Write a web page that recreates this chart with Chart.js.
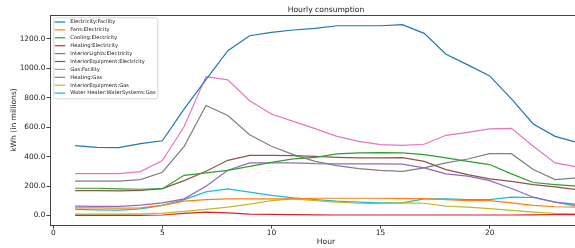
<!DOCTYPE html>
<html>
<head>
<meta charset="utf-8">
<script src="https://cdn.jsdelivr.net/npm/chart.js@4.4.0/dist/chart.umd.min.js"></script>
<style>
  html, body { margin: 0; padding: 0; background: #fff; overflow: hidden; }
  #wrap { width: 605px; height: 248px; }
</style>
</head>
<body>
<div id="wrap"><canvas id="chart" width="605" height="248"></canvas></div>
<script>
// ── DATA ──────────────────────────────────────────────────────
const TITLE  = 'Hourly consumption';
const XLABEL = 'Hour';
const YLABEL = 'kWh (in millions)';

const hours  = [1,2,3,4,5,6,7,8,9,10,11,12,13,14,15,16,17,18,19,20,21,22,23,24];
const xTicks = [0,5,10,15,20,25];
const yTicks = [0,200,400,600,800,1000,1200];

const elecFacility = [475,463,461,488,508,725,924,1120,1222,1245,1261,1272,1290,1290,1290,1297,1238,1096,1024,949,793,622,538,497];
const fansElec     = [52,52,50,52,68,97,108,113,113,113,113,117,117,117,117,115,115,108,101,101,86,68,59,57];
const coolingElec  = [185,185,180,178,182,273,289,307,334,361,384,395,418,425,427,425,414,391,368,346,283,224,210,199];
const heatingElec  = [1,1,1,1,3,14,23,18,9,7,5,4,3,3,3,3,3,3,3,3,3,4,5,5];
const lightsElec   = [63,61,61,70,86,113,199,307,357,357,357,352,351,351,351,349,323,283,267,237,183,124,90,75];
const equipElec    = [169,169,167,171,182,237,300,375,409,409,407,402,395,391,391,393,368,312,278,249,231,210,194,176];
const gasFacility  = [285,285,285,298,373,605,944,922,780,690,640,590,538,504,481,477,484,545,565,588,592,470,357,330];
const heatingGas   = [233,233,233,244,294,470,748,680,549,470,414,368,339,319,307,300,323,357,384,420,420,312,244,255];
const equipGas     = [9,9,9,11,16,27,41,56,77,101,113,101,90,83,81,86,83,63,57,47,34,23,14,11];
const waterHeater  = [41,38,36,45,68,108,160,181,158,136,120,108,97,90,86,86,113,113,108,108,124,122,90,63];

const SERIES = [
  ['Electricity:Facility',               elecFacility, '#1f77b4'],
  ['Fans:Electricity',                   fansElec,     '#ff7f0e'],
  ['Cooling:Electricity',                coolingElec,  '#2ca02c'],
  ['Heating:Electricity',                heatingElec,  '#d62728'],
  ['InteriorLights:Electricity',         lightsElec,   '#9467bd'],
  ['InteriorEquipment:Electricity',      equipElec,    '#8c564b'],
  ['Gas:Facility',                       gasFacility,  '#e377c2'],
  ['Heating:Gas',                        heatingGas,   '#7f7f7f'],
  ['InteriorEquipment:Gas',              equipGas,     '#bcbd22'],
  ['Water Heater:WaterSystems:Gas',      waterHeater,  '#17becf'],
];

const FONT = '"DejaVu Sans", sans-serif';

// ── FRAME / TITLE / LEGEND ────────────────────────────────────
const decor = {
  id: 'decor',
  afterDraw(chart) {
    const { ctx, chartArea: a } = chart;
    ctx.save();

    // spines
    ctx.strokeStyle = '#444';
    ctx.lineWidth = 1;
    ctx.strokeRect(Math.round(a.left) + 0.5, Math.round(a.top) + 0.5,
                   Math.round(a.right - a.left), Math.round(a.bottom - a.top));

    // title
    ctx.fillStyle = '#222';
    ctx.font = '7.6px ' + FONT;
    ctx.textAlign = 'center';
    ctx.textBaseline = 'alphabetic';
    ctx.fillText(TITLE, (a.left + a.right) / 2, a.top - 3.5);

    // legend box
    const bx = a.left + 3.3, by = a.top + 2.3, bw = 104, bh = 81;
    ctx.fillStyle = 'rgba(255,255,255,0.85)';
    ctx.strokeStyle = '#d8d8d8';
    ctx.beginPath();
    ctx.roundRect(bx + 0.5, by + 0.5, bw, bh, 2);
    ctx.fill();
    ctx.stroke();

    ctx.font = '5.2px ' + FONT;
    ctx.textAlign = 'left';
    ctx.textBaseline = 'middle';
    chart.data.datasets.forEach((ds, i) => {
      const y = by + 4.7 + i * 7.9;
      ctx.strokeStyle = ds.borderColor;
      ctx.lineWidth = 1.2;
      ctx.beginPath();
      ctx.moveTo(bx + 1.5, y);
      ctx.lineTo(bx + 12, y);
      ctx.stroke();
      ctx.fillStyle = '#222';
      ctx.fillText(ds.label, bx + 17, y);
    });

    ctx.restore();
  }
};

// ── CHART ─────────────────────────────────────────────────────
new Chart(document.getElementById('chart').getContext('2d'), {
  type: 'line',
  data: {
    datasets: SERIES.map(([label, vals, color]) => ({
      label,
      data: hours.map((h, i) => ({ x: h, y: vals[i] })),
      borderColor: color,
      borderWidth: 1.2,
      pointRadius: 0,
      tension: 0,
      fill: false,
    })),
  },
  options: {
    responsive: false,
    animation: false,
    events: [],
    layout: { padding: { top: 15, right: 3, left: 0, bottom: 0 } },
    plugins: {
      legend: { display: false },
      title: { display: false },
      tooltip: { enabled: false },
    },
    scales: {
      x: {
        type: 'linear',
        min: -0.15, max: 25.15,
        afterBuildTicks: s => { s.ticks = xTicks.map(v => ({ value: v })); },
        afterFit: s => { s.height = 23; },
        border: { display: false },
        grid: { drawOnChartArea: false, drawTicks: true, tickLength: 3.5, color: '#444' },
        ticks: {
          padding: 0, maxRotation: 0, autoSkip: false,
          color: '#222', font: { family: FONT, size: 7.4 },
        },
        title: {
          display: true, text: XLABEL, color: '#222',
          font: { family: FONT, size: 7.6 },
          padding: { top: 0, bottom: 1.4 },
        },
      },
      y: {
        min: -65, max: 1363,
        afterBuildTicks: s => { s.ticks = yTicks.map(v => ({ value: v })); },
        afterFit: s => { s.width = 50; },
        border: { display: false },
        grid: { drawOnChartArea: false, drawTicks: true, tickLength: 3.5, color: '#444' },
        ticks: {
          padding: 1, autoSkip: false,
          color: '#222', font: { family: FONT, size: 7.4 },
          callback: v => Number(v).toFixed(1),
        },
        title: {
          display: true, text: YLABEL, color: '#222',
          font: { family: FONT, size: 7.6 },
          padding: { top: 9.4, bottom: 0 },
        },
      },
    },
  },
  plugins: [decor],
});
</script>
</body>
</html>
